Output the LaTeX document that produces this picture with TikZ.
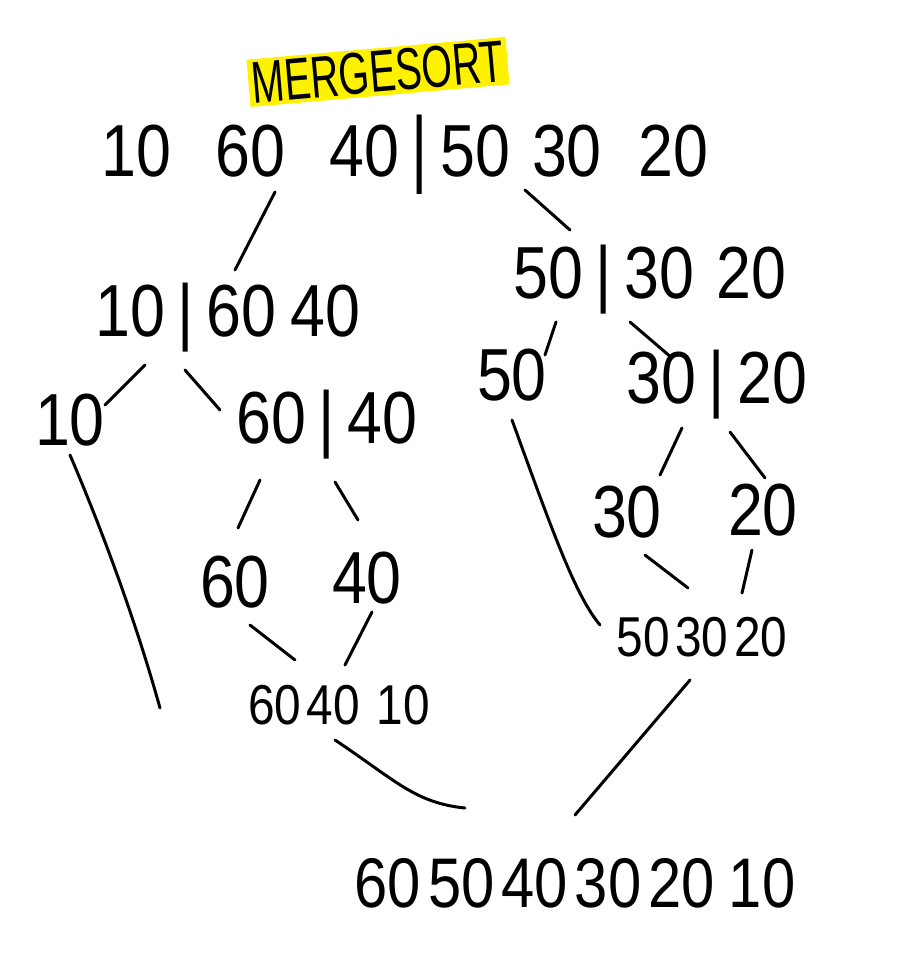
\documentclass[tikz,border=0pt]{standalone}
\usepackage{fontspec}
\setmainfont[FakeStretch=0.85]{Liberation Sans}
\usepackage{graphicx}
\begin{document}
\begin{tikzpicture}[x=0.02cm,y=-0.02cm]
\begin{scope}

\tikzstyle{bignum} = [inner sep=0pt,font=\fontsize{42}{42}\selectfont];
\tikzstyle{midnum} = [inner sep=0pt,font=\fontsize{40}{40}\selectfont];
\tikzstyle{smallnum} = [inner sep=0pt,font=\fontsize{32}{32}\selectfont];
\tikzstyle{stroke} = [line width=1.7pt,line cap=round];

\useasboundingbox (0,0) rectangle (912,978);

\node [fill=yellow,rotate=5,minimum width=5.2cm,minimum height=0.95cm,inner sep=0pt] (title) at (378,72) {\scalebox{1.1}[1.4]{\fontsize{24}{24}\selectfont MERGESORT}};

\node [bignum] (top) at (405,155) {10\hspace{0.6em}60\hspace{0.6em}40\,\scalebox{1}[1.15]{|}\,50\hspace{0.3em}30\hspace{0.5em}20};

\node [bignum] (l1) at (228,318) {10\,|\,60\hspace{0.2em}40};
\node [bignum] (r1) at (650,280) {50\,|\,30\hspace{0.3em}20};

\node [bignum] (l10) at (70,420) {10};
\node [bignum] (l2) at (327,425) {60\,|\,40};
\node [bignum] (r50) at (512,375) {50};
\node [bignum] (r2) at (717,385) {30\,|\,20};

\node [bignum] (r30) at (627,512) {30};
\node [bignum] (r20) at (763,510) {20};
\node [bignum] (l60) at (235,582) {60};
\node [bignum] (l40) at (367,578) {40};

\node [smallnum] (rm) at (702,637) {50\hspace{0.1em}30\hspace{0.1em}20};
\node [smallnum] (lm) at (339,705) {60\hspace{0.1em}40\hspace{0.3em}10};

\node [midnum] (fin) at (575,883) {60\hspace{0.1em}50\hspace{0.1em}40\hspace{0.1em}30\hspace{0.1em}20\hspace{0.2em}10};

\draw [stroke] ([shift={(-130,37)}]top.center) -- ([shift={(7,-48)}]l1.center);
\draw [stroke] ([shift={(120,35)}]top.center) -- ([shift={(-80,-50)}]r1.center);
\draw [stroke] ([shift={(-83,47)}]l1.center) -- ([shift={(35,-15)}]l10.center);
\draw [stroke] ([shift={(-43,52)}]l1.center) -- ([shift={(-107,-15)}]l2.center);
\draw [stroke] ([shift={(-94,42)}]r1.center) -- ([shift={(33,-20)}]r50.center);
\draw [stroke] ([shift={(-20,42)}]r1.center) -- ([shift={(-45,-27)}]r2.center);
\draw [stroke] ([shift={(-35,43)}]r2.center) -- ([shift={(33,-37)}]r30.center);
\draw [stroke] ([shift={(13,47)}]r2.center) -- ([shift={(2,-32)}]r20.center);
\draw [stroke] ([shift={(18,43)}]r30.center) -- ([shift={(-14,-49)}]rm.center);
\draw [stroke] ([shift={(-11,40)}]r20.center) -- ([shift={(40,-44)}]rm.center);
\draw [stroke] ([shift={(0,45)}]r50.center) .. controls +(40,110) and +(-25,-30) .. ([shift={(-102,-12)}]rm.center);
\draw [stroke] ([shift={(0,35)}]l10.center) .. controls +(30,70) and +(-25,-90) .. ([shift={(-179,3)}]lm.center);
\draw [stroke] ([shift={(-67,55)}]l2.center) -- ([shift={(3,-54)}]l60.center);
\draw [stroke] ([shift={(8,57)}]l2.center) -- ([shift={(-9,-58)}]l40.center);
\draw [stroke] ([shift={(15,43)}]l60.center) -- ([shift={(-44,-45)}]lm.center);
\draw [stroke] ([shift={(5,34)}]l40.center) -- ([shift={(6,-40)}]lm.center);
\draw [stroke] ([shift={(-4,35)}]lm.center) .. controls +(60,40) and +(-50,-5) .. ([shift={(-110,-75)}]fin.center);
\draw [stroke] ([shift={(-12,43)}]rm.center) -- ([shift={(0,-68)}]fin.center);

\end{scope}
\end{tikzpicture}
\end{document}
